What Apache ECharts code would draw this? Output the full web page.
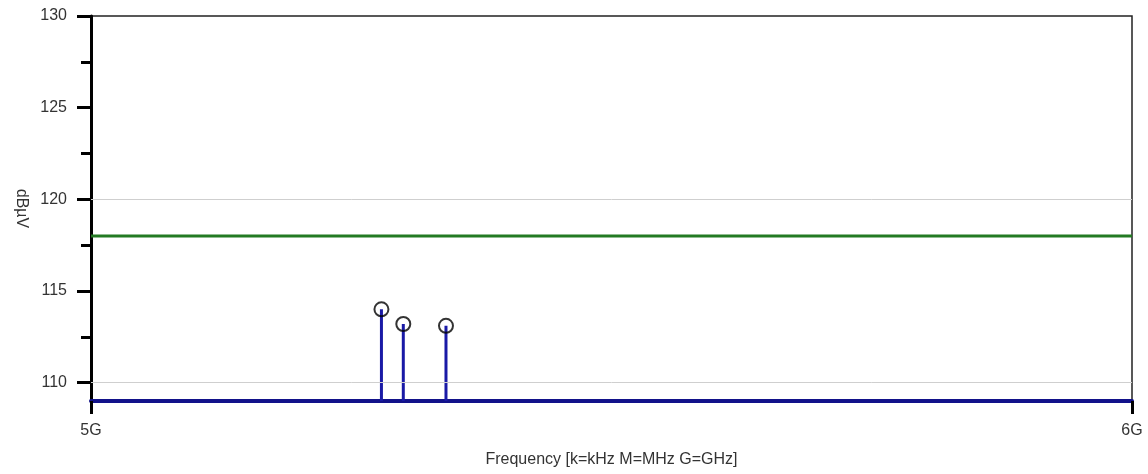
<!DOCTYPE html>
<html>
<head>
  <meta charset="utf-8">
  <title>spectrum</title>
  <script src="https://cdn.jsdelivr.net/npm/echarts@6/dist/echarts.min.js"></script>
</head>
<body style="margin:0;background:#fff;">
  <div id="main" style="width:1148px;height:474px;"></div>
  <script type="text/javascript">
    // 数据
    var peakFreq = [5.279, 5.300, 5.341]      // GHz
    var peakLevel = [114.0, 113.2, 113.1]     // dBµV
    var limitLevel = 118                      // 绿色限值线
    var gridLevels = [110, 120]
    var yMajorTicks = [110, 115, 120, 125, 130]
    var yMinorTicks = [112.5, 117.5, 122.5, 127.5]
    var xTicks = [5, 6]
    var yMin = 109, yMax = 130

    var font = 'Liberation Sans, Arial, sans-serif'
    var myChart = echarts.init(document.getElementById('main'))

    // 每根竖线一个 series
    var stemSeries = peakFreq.map(function (f, i) {
      return {
        type: 'line',
        data: [[f, yMin], [f, peakLevel[i]]],
        symbol: 'none',
        lineStyle: { color: '#1a1aa6', width: 3 },
        z: 3,
        silent: true
      }
    })

    var option = {
      animation: false,
      grid: {
        left: 91, right: 16, top: 16, bottom: 73,
        show: true, borderColor: '#222', borderWidth: 1.5
      },
      xAxis: {
        type: 'value', min: 5, max: 6,
        name: 'Frequency [k=kHz M=MHz G=GHz]',
        nameLocation: 'middle', nameGap: 51,
        nameTextStyle: { fontFamily: font, fontSize: 16, color: '#333' },
        axisLine: { lineStyle: { color: '#12128a', width: 4 } },
        axisTick: { customValues: xTicks, length: 13, lineStyle: { color: '#000', width: 3 } },
        axisLabel: {
          customValues: xTicks, margin: 22,
          fontFamily: font, fontSize: 16, color: '#333',
          formatter: function (v) { return v + 'G' }
        },
        splitLine: { show: false }
      },
      yAxis: [{
        type: 'value', min: yMin, max: yMax,
        name: 'dBµV', nameLocation: 'middle', nameGap: 53, nameRotate: -90,
        nameTextStyle: { fontFamily: font, fontSize: 16, color: '#333' },
        axisLine: { show: true, lineStyle: { color: '#000', width: 3 } },
        axisTick: { customValues: yMajorTicks, length: 14, lineStyle: { color: '#000', width: 3 } },
        axisLabel: { customValues: yMajorTicks, margin: 24, fontFamily: font, fontSize: 16, color: '#333' },
        splitLine: { show: false }
      }, {
        type: 'value', min: yMin, max: yMax, position: 'left',
        axisLine: { show: false },
        axisTick: { customValues: yMinorTicks, length: 10, lineStyle: { color: '#000', width: 3 } },
        axisLabel: { show: false },
        splitLine: { show: false }
      }],
      series: [{
        // 网格线
        type: 'line', data: [], silent: true,
        markLine: {
          silent: true, symbol: 'none', label: { show: false },
          lineStyle: { color: '#cfcfcf', width: 1, type: 'solid' },
          data: gridLevels.map(function (v) { return { yAxis: v } })
        }
      }, {
        type: 'line',
        data: [[5, limitLevel], [6, limitLevel]],
        symbol: 'none',
        lineStyle: { color: '#237a23', width: 3 },
        z: 2, silent: true
      }].concat(stemSeries).concat([{
        type: 'scatter',
        data: peakFreq.map(function (f, i) { return [f, peakLevel[i]] }),
        symbol: 'circle', symbolSize: 14,
        itemStyle: { color: 'rgba(255,255,255,0)', borderColor: '#000', borderWidth: 2 },
        z: 4, silent: true
      }])
    }

    myChart.setOption(option)
  </script>
</body>
</html>
